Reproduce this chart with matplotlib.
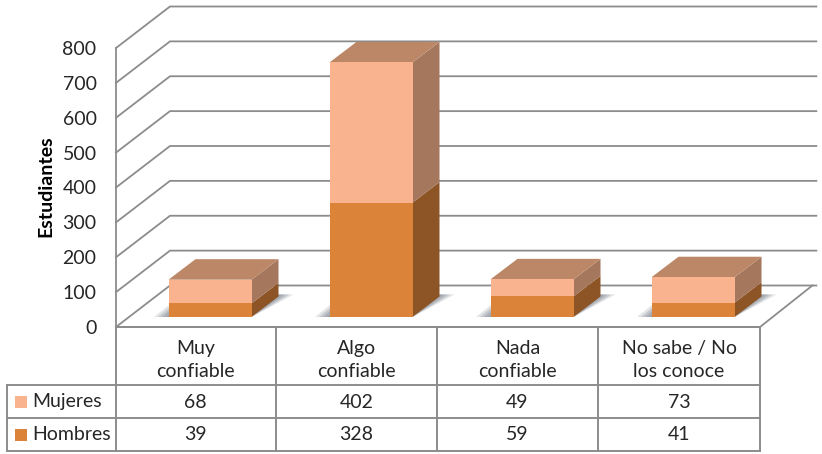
import matplotlib
matplotlib.use("Agg")
import matplotlib.pyplot as plt
from matplotlib.patches import Polygon, Rectangle

plt.rcParams['font.family'] = ['Lato', 'DejaVu Sans']

categories = ['Muy\nconfiable', 'Algo\nconfiable', 'Nada\nconfiable', 'No sabe / No\nlos conoce']
series_names = ['Mujeres', 'Hombres']
mujeres = [68, 402, 49, 73]
hombres = [39, 328, 59, 41]
yticks = [0, 100, 200, 300, 400, 500, 600, 700, 800]

W, H = 822, 454
fig = plt.figure(figsize=(W / 100, H / 100), dpi=100)

# front plane of the 3d box, value scale on y, categories on x
ax = fig.add_axes([116 / W, (H - 327) / H, (760 - 116) / W, (327 - 48) / H])
ax.set_xlim(0, 4)
ax.set_ylim(0, 800)
for s in ['top', 'right', 'bottom']:
    ax.spines[s].set_visible(False)
ax.spines['left'].set_color('#8c8c8c')
ax.spines['left'].set_linewidth(1.3)
ax.patch.set_alpha(0)
ax.set_xticks([])
ax.set_yticks(yticks)
ax.tick_params(axis='y', length=0, pad=14, labelsize=14, labelcolor='#262626')
ax.set_ylabel('Estudiantes', fontsize=14, fontweight='bold', color='black')
ax.yaxis.set_label_coords(-0.096, 0.505)

px_x = 4 / (760 - 116)
px_y = 800 / (327 - 48)
depth_x, depth_y = 54 * px_x, 41.5 * px_y
bar_dx, bar_dy = 27 * px_x, 20.5 * px_y
grid = '#8c8c8c'

# back wall and floor
for v in yticks:
    ax.plot([0, depth_x, 4.35], [v, v + depth_y, v + depth_y], color=grid, lw=1.3,
            clip_on=False, zorder=1, solid_joinstyle='miter')
ax.plot([depth_x + 4 - 0.01, 4.0, 0], [depth_y, 0, 0], color=grid, lw=1.3, clip_on=False, zorder=1)


def shade(pts, color, z=3, alpha=1.0):
    ax.add_patch(Polygon(pts, closed=True, facecolor=color, edgecolor='none', alpha=alpha,
                         clip_on=False, zorder=z))


base = 10 * px_y
bar_w = 83 * px_x
for i, (m, h) in enumerate(zip(mujeres, hombres)):
    x0 = i + 52.5 * px_x
    x1 = x0 + bar_w
    # floor shadow, stacked layers to fake the soft edge
    for grow, a in [(15, 0.22), (11, 0.3), (7, 0.35), (3, 0.4)]:
        shade([(x1, base), (x1 + bar_dx + grow * px_x, base + bar_dy + 2 * px_y),
               (x1 + bar_dx, base + bar_dy + 2 * px_y)], '#7f8790', z=2, alpha=a)
        shade([(x0 - grow * px_x, base), (x0, base), (x0, base + (grow * 0.8) * px_y)],
              '#7f8790', z=2, alpha=a)
    # hombres
    top_h = base + h
    top_m = top_h + m
    shade([(x1, base), (x1 + bar_dx, base + bar_dy), (x1 + bar_dx, top_h + bar_dy), (x1, top_h)], '#8d5425')
    ax.bar(x0, h, width=bar_w, bottom=base, align='edge', color='#db8338', clip_on=False, zorder=4)
    # mujeres
    shade([(x1, top_h), (x1 + bar_dx, top_h + bar_dy), (x1 + bar_dx, top_m + bar_dy), (x1, top_m)], '#a5775c')
    ax.bar(x0, m, width=bar_w, bottom=top_h, align='edge', color='#f9b48f', clip_on=False, zorder=4)
    shade([(x0, top_m), (x1, top_m), (x1 + bar_dx, top_m + bar_dy), (x0 + bar_dx, top_m + bar_dy)], '#bc8767')

# data table below, in pixel coordinates
tb = fig.add_axes([0, 0, 1, 1])
tb.set_xlim(0, W)
tb.set_ylim(H, 0)
tb.axis('off')
tb.patch.set_alpha(0)

col_x = [115.5, 276, 437, 598, 760]
row_y = [327, 385, 418, 451]
for x in col_x:
    tb.plot([x, x], [row_y[0], row_y[-1]], color=grid, lw=1.4)
for y in row_y[1:]:
    tb.plot([7, col_x[-1]], [y, y], color=grid, lw=1.4)
tb.plot([115.5, 760], [row_y[0], row_y[0]], color=grid, lw=1.4)
tb.plot([7, 7], [row_y[1], row_y[-1]], color=grid, lw=1.4)

txt = '#262626'
for i, c in enumerate(categories):
    cx = (col_x[i] + col_x[i + 1]) / 2
    tb.text(cx, 360, c, ha='center', va='center', fontsize=14, color=txt, linespacing=1.45)
    tb.text(cx, 402, str(mujeres[i]), ha='center', va='center', fontsize=14, color=txt)
    tb.text(cx, 435, str(hombres[i]), ha='center', va='center', fontsize=14, color=txt)

swatch = ['#f9b48f', '#db8338']
for name, col, y in zip(series_names, swatch, [402, 435]):
    tb.add_patch(Rectangle((15, y - 6), 12, 12, facecolor=col, edgecolor='none'))
    tb.text(32, y, name, ha='left', va='center', fontsize=14, color=txt)

fig.savefig('out.png', dpi=100)
